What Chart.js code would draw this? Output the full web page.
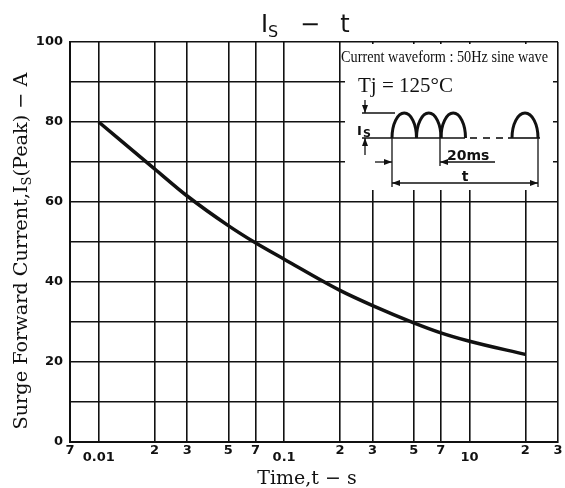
<!DOCTYPE html>
<html>
<head>
<meta charset="utf-8">
<script src="https://cdn.jsdelivr.net/npm/chart.js@4.4.0/dist/chart.umd.min.js"></script>
<style>
  html, body { margin: 0; padding: 0; background: #fff; }
</style>
</head>
<body>
<canvas id="grafico-sobrecorriente" width="565" height="488"></canvas>
<script>
// Datos (t en segundos, corriente pico en A)
const tiempos = [0.01, 0.02, 0.03, 0.05, 0.07, 0.1, 0.2, 0.3, 0.5, 0.7, 1, 2];
const corrientes = [80, 68.3, 61.5, 54.1, 49.8, 45.7, 37.9, 34.1, 29.8, 27.3, 25.2, 21.9];

// Marcas de los ejes
const ticksX = [0.007, 0.01, 0.02, 0.03, 0.05, 0.07, 0.1, 0.2, 0.3, 0.5, 0.7, 1, 2, 3];
const etiquetasX = ["7", "0.01", "2", "3", "5", "7", "0.1", "2", "3", "5", "7", "10", "2", "3"];
const decadas = ["0.01", "0.1", "10"];
const ticksY = [0, 10, 20, 30, 40, 50, 60, 70, 80, 90, 100];
const etiquetasY = ["0", "", "20", "", "40", "", "60", "", "80", "", "100"];

const NEGRO = '#111';

// Rótulos con subíndice y el recuadro de la forma de onda
const rotulos = {
    id: 'rotulos',
    afterDraw(chart) {
        const c = chart.ctx;
        const a = chart.chartArea;
        c.save();
        c.fillStyle = NEGRO;
        c.strokeStyle = NEGRO;
        c.textBaseline = 'alphabetic';

        // Título  Is - t
        c.font = '24px "DejaVu Sans"';
        c.textAlign = 'left';
        c.fillText('I', 261, 32);
        c.font = '16px "DejaVu Sans"';
        c.fillText('S', 268, 37);
        c.font = '24px "DejaVu Sans"';
        c.textAlign = 'center';
        c.fillText('\u2212', 310, 32);
        c.fillText('t', 345, 32);

        // Título del eje X
        c.font = '19px "DejaVu Serif"';
        c.fillText('Time,t \u2212 s', 307, 484);

        // Título del eje Y (rotado)
        const partes = [
            { t: 'Surge Forward Current,I', k: 1, dy: 0 },
            { t: 'S', k: 0.68, dy: 4 },
            { t: '(Peak) \u2212 A', k: 1, dy: 0 }
        ];
        const base = 20;
        let ancho = 0;
        partes.forEach(p => {
            c.font = (base * p.k) + 'px "DejaVu Serif"';
            ancho += c.measureText(p.t).width;
        });
        const f = base * 357 / ancho;
        c.translate(27, 251);
        c.rotate(-Math.PI / 2);
        c.textAlign = 'left';
        let total = 0;
        partes.forEach(p => {
            c.font = (f * p.k) + 'px "DejaVu Serif"';
            total += c.measureText(p.t).width;
        });
        let px = -total / 2;
        partes.forEach(p => {
            c.font = (f * p.k) + 'px "DejaVu Serif"';
            c.fillText(p.t, px, p.dy);
            px += c.measureText(p.t).width;
        });
        c.restore();

        // Recuadro: forma de onda
        const L = a.right - 218;
        const T = a.top;
        c.save();
        c.fillStyle = '#fff';
        c.fillRect(L + 5, T + 2, 208, 146);
        c.fillStyle = NEGRO;
        c.strokeStyle = NEGRO;
        c.textAlign = 'left';
        c.textBaseline = 'alphabetic';
        c.font = '16px "Liberation Serif"';
        c.fillText('Current waveform : 50Hz sine wave', L + 1, T + 20, 207);
        c.font = '21px "Liberation Serif"';
        c.fillText('Tj = 125\u00B0C', L + 18, T + 50);

        const linea = (x1, y1, x2, y2, w) => {
            c.lineWidth = w || 1.3;
            c.beginPath();
            c.moveTo(x1, y1);
            c.lineTo(x2, y2);
            c.stroke();
        };
        const punta = (x, y, dx, dy) => {
            // punta de flecha en (x,y) apuntando en la dirección (dx,dy)
            const l = 8, w = 3;
            c.beginPath();
            c.moveTo(x, y);
            c.lineTo(x - dx * l - dy * w, y - dy * l + dx * w);
            c.lineTo(x - dx * l + dy * w, y - dy * l - dx * w);
            c.closePath();
            c.fill();
        };

        // Is
        linea(L + 22, T + 71, L + 55, T + 71);
        linea(L + 25, T + 58, L + 25, T + 71);
        punta(L + 25, T + 71, 0, 1);
        linea(L + 22, T + 96, L + 125, T + 96, 1.6);
        linea(L + 25, T + 96, L + 25, T + 113);
        punta(L + 25, T + 96, 0, -1);
        c.font = 'bold 13px "DejaVu Sans"';
        c.fillText('I', L + 17, T + 93);
        c.font = 'bold 11px "DejaVu Sans"';
        c.fillText('S', L + 23, T + 95);

        // semiondas
        c.lineWidth = 3;
        [52, 76.5, 101, 172].forEach(x0 => {
            const w = x0 === 172 ? 26 : 24.5;
            c.beginPath();
            c.ellipse(L + x0 + w / 2, T + 96, w / 2, 25, 0, Math.PI, 0);
            c.stroke();
        });
        [[130, 137], [143, 150], [156, 163]].forEach(d => linea(L + d[0], T + 96, L + d[1], T + 96, 1.6));
        linea(L + 168, T + 96, L + 200, T + 96, 1.6);

        // cotas
        linea(L + 52, T + 96, L + 52, T + 145);
        linea(L + 100, T + 96, L + 100, T + 124);
        linea(L + 198, T + 96, L + 198, T + 145);
        linea(L + 35, T + 120, L + 52, T + 120);
        punta(L + 52, T + 120, 1, 0);
        linea(L + 100, T + 120, L + 155, T + 120);
        punta(L + 100, T + 120, -1, 0);
        c.font = 'bold 14px "DejaVu Sans"';
        c.fillText('20ms', L + 107, T + 118);
        linea(L + 52, T + 141, L + 198, T + 141);
        punta(L + 52, T + 141, -1, 0);
        punta(L + 198, T + 141, 1, 0);
        c.textAlign = 'center';
        c.fillText('t', L + 125, T + 139);
        c.restore();
    }
};

const ctx = document.getElementById('grafico-sobrecorriente').getContext('2d');
new Chart(ctx, {
    type: 'line',
    data: {
        datasets: [{
            data: tiempos.map((t, i) => ({ x: t, y: corrientes[i] })),
            borderColor: NEGRO,
            borderWidth: 3.5,
            pointRadius: 0,
            fill: false,
            cubicInterpolationMode: 'monotone'
        }]
    },
    options: {
        responsive: false,
        animation: false,
        layout: { padding: { top: 42, right: 7, left: 0, bottom: 0 } },
        plugins: {
            legend: { display: false },
            tooltip: { enabled: false }
        },
        scales: {
            x: {
                type: 'logarithmic',
                min: 0.007,
                max: 3,
                afterBuildTicks: s => { s.ticks = ticksX.map(v => ({ value: v })); },
                afterFit: s => { s.height = 46; },
                grid: { color: NEGRO, lineWidth: 1.6, drawTicks: false },
                border: { color: NEGRO, width: 2 },
                ticks: {
                    autoSkip: false,
                    maxRotation: 0,
                    padding: 1,
                    color: NEGRO,
                    font: c => ({
                        family: '"DejaVu Sans"',
                        size: 13,
                        weight: 'bold',
                        lineHeight: decadas.includes(etiquetasX[c.index]) ? '10px' : '16px'
                    }),
                    callback: (v, i) => decadas.includes(etiquetasX[i]) ? ['', etiquetasX[i]] : etiquetasX[i]
                }
            },
            y: {
                type: 'linear',
                min: 0,
                max: 100,
                afterBuildTicks: s => { s.ticks = ticksY.map(v => ({ value: v })); },
                afterFit: s => { s.width = 70; },
                grid: { color: NEGRO, lineWidth: 1.6, drawTicks: false },
                border: { color: NEGRO, width: 2 },
                ticks: {
                    padding: 7,
                    color: NEGRO,
                    font: { family: '"DejaVu Sans"', size: 13, weight: 'bold' },
                    callback: (v, i) => etiquetasY[i]
                }
            }
        }
    },
    plugins: [rotulos]
});
</script>
</body>
</html>
